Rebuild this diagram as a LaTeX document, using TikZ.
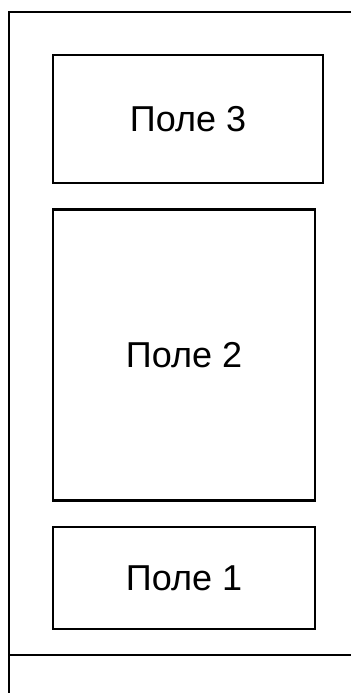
\documentclass[tikz,border=0pt]{standalone}
\usepackage{fontspec}
\setmainfont{Liberation Sans}
\begin{document}
\begin{tikzpicture}[x=1pt,y=-1pt,line width=2.2pt,
  every node/.style={font=\fontsize{36}{43}\selectfont},
  polebox/.style={draw,line width=2.2pt,inner sep=0pt}]
\useasboundingbox (0,0) rectangle (351,693);
\draw (351,12) -- (9,12) -- (9,693);
\draw (9,655) -- (351,655);
\node[polebox,minimum width=270pt,minimum height=128pt] (pole3) at (188,119) {Поле 3};
\node[polebox,minimum width=262pt,minimum height=291pt] (pole2) at (184,355) {Поле 2};
\node[polebox,minimum width=262pt,minimum height=102pt] (pole1) at (184,578) {Поле 1};
\end{tikzpicture}
\end{document}
